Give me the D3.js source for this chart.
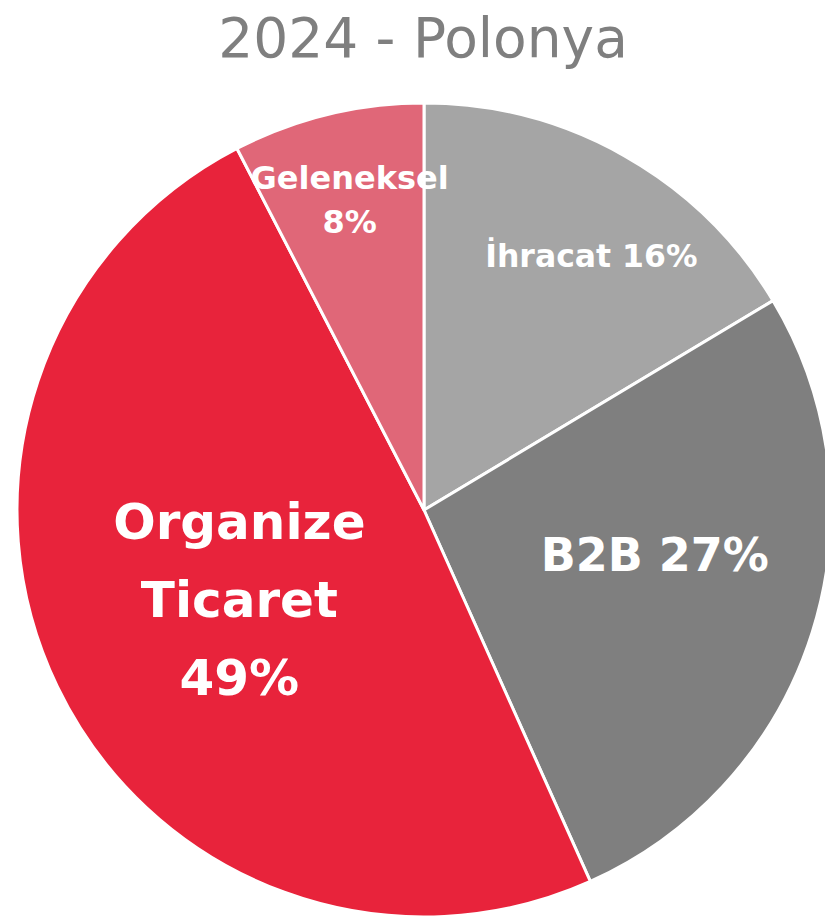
<!DOCTYPE html>
<html>
<head>
<meta charset="utf-8">
<script src="https://cdn.jsdelivr.net/npm/d3@7"></script>
<style>
  html, body { margin: 0; padding: 0; background: #fff; }
  svg { display: block; }
</style>
</head>
<body>
<svg id="chart" width="825" height="917"></svg>
<script>
// ---- data ----
const title = "2024 - Polonya";
const categories = ["İhracat", "B2B", "Organize Ticaret", "Geleneksel"];
const values = [16.4, 26.9, 49.1, 7.6];
const colors = ["#a5a5a5", "#7f7f7f", "#e8233b", "#e06778"];
// label lines (category text split), then percent appended
const labelLines = [["İhracat {p}"], ["B2B {p}"], ["Organize", "Ticaret", "{p}"], ["Geleneksel", "{p}"]];
const labelSizes = [31.5, 46, 50, 32];
const labelLineHeights = [0, 0, 78, 44];
const labelNudges = [[27, -7], [-41, -41], [72, -35], [-7, -34]];

// ---- layout ----
const W = 825, H = 917;
const cx = 424, cy = 510, R = 407;
const svg = d3.select("#chart");

svg.append("text")
  .attr("x", 423).attr("y", 57)
  .attr("text-anchor", "middle")
  .attr("font-family", "DejaVu Sans, sans-serif")
  .attr("font-size", 55)
  .attr("fill", "#7f7f7f")
  .text(title);

const data = categories.map((c, i) => ({ c, v: values[i], i }));
const total = d3.sum(values);
const pie = d3.pie().value(d => d.v).sort(null);
const arcs = pie(data);
const arc = d3.arc().innerRadius(0).outerRadius(R);
const labelArc = d3.arc().innerRadius(R * 0.7).outerRadius(R * 0.7);

const g = svg.append("g").attr("transform", `translate(${cx},${cy})`);

g.selectAll("path.slice").data(arcs).join("path")
  .attr("class", "slice")
  .attr("d", arc)
  .attr("fill", d => colors[d.data.i])
  .attr("stroke", "#ffffff")
  .attr("stroke-width", 3)
  .attr("stroke-linejoin", "round");

const labels = g.selectAll("text.lbl").data(arcs).join("text")
  .attr("class", "lbl")
  .attr("text-anchor", "middle")
  .attr("font-family", "DejaVu Sans, sans-serif")
  .attr("font-weight", "bold")
  .attr("fill", "#ffffff")
  .attr("font-size", d => labelSizes[d.data.i]);

labels.each(function(d) {
  const i = d.data.i;
  const [px, py] = labelArc.centroid(d);
  const x = px + labelNudges[i][0];
  const y = py + labelNudges[i][1];
  const fs = labelSizes[i];
  const lh = labelLineHeights[i];
  const pct = Math.round(d.data.v / total * 100) + "%";
  const lines = labelLines[i].map(s => s.replace("{p}", pct));
  const first = y - (lines.length - 1) * lh / 2 + 0.365 * fs;
  d3.select(this).selectAll("tspan").data(lines).join("tspan")
    .attr("x", x)
    .attr("y", (s, k) => first + k * lh)
    .text(s => s);
});
</script>
</body>
</html>
